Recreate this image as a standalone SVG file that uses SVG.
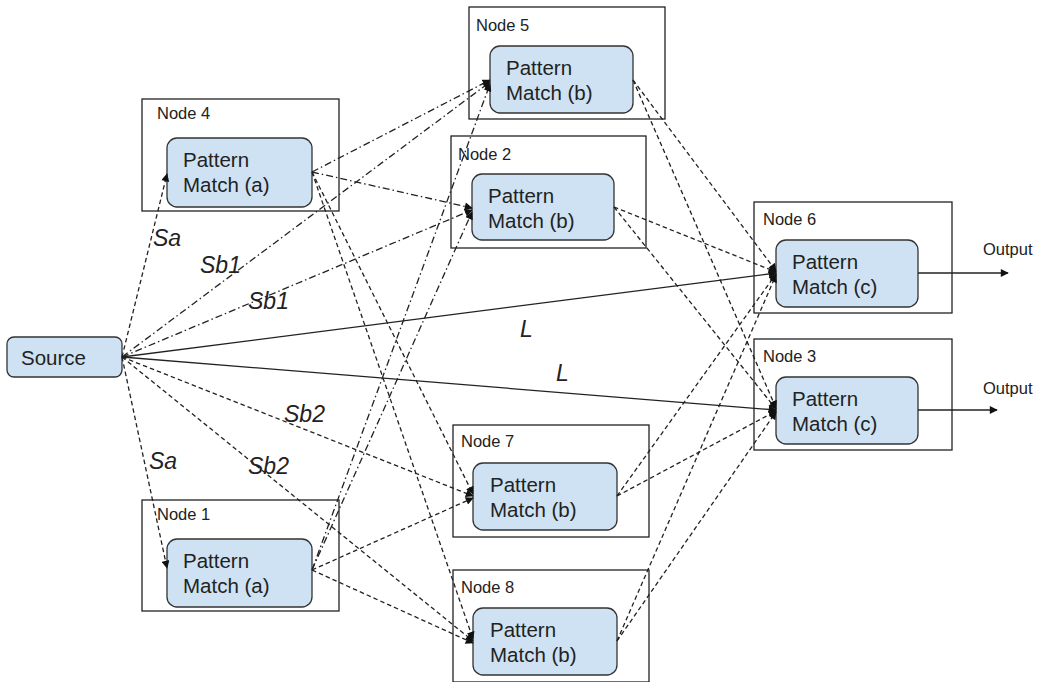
<svg xmlns="http://www.w3.org/2000/svg" width="1043" height="682" viewBox="0 0 1043 682">
<defs>
<style>
.bg{fill:#ffffff}
.box{fill:#ffffff;stroke:#222;stroke-width:1.3}
.pm{fill:#cfe2f3;stroke:#333;stroke-width:1.3}
.t{font-family:"Liberation Sans",Arial,sans-serif;font-size:20.5px;fill:#222}
.nl{font-family:"Liberation Sans",Arial,sans-serif;font-size:16.5px;fill:#222}
.lab{font-family:"Liberation Sans",Arial,sans-serif;font-size:23px;font-style:italic;fill:#222}
.c{fill:none;stroke:#222;stroke-width:1.3}
.d{stroke-dasharray:4.5 3}
.dd{stroke-dasharray:7 3 1.5 3}
</style>
<marker id="ah" viewBox="0 0 10 10" refX="9" refY="5" markerWidth="9" markerHeight="8" markerUnits="userSpaceOnUse" orient="auto">
<path d="M0,0 L10,5 L0,10 z" fill="#111"/>
</marker>
</defs>
<rect class="bg" x="0" y="0" width="1043" height="682"/>

<g id="node4"><rect class="box" x="142" y="99" width="197" height="112"/><text class="nl" x="157" y="119">Node 4</text>
<rect class="pm" x="167" y="138" width="145" height="69" rx="10"/><text class="t" x="183" y="167">Pattern</text><text class="t" x="183" y="192">Match (a)</text></g>

<g id="node1"><rect class="box" x="142" y="500" width="197" height="111"/><text class="nl" x="157" y="520">Node 1</text>
<rect class="pm" x="167" y="539" width="145" height="68" rx="10"/><text class="t" x="183" y="568">Pattern</text><text class="t" x="183" y="593">Match (a)</text></g>

<g id="node5"><rect class="box" x="469" y="7" width="196" height="112"/><text class="nl" x="476" y="31">Node 5</text>
<rect class="pm" x="490" y="46" width="143" height="67" rx="10"/><text class="t" x="506" y="75">Pattern</text><text class="t" x="506" y="100">Match (b)</text></g>

<g id="node2"><rect class="box" x="451" y="136" width="195" height="112"/><text class="nl" x="458" y="160">Node 2</text>
<rect class="pm" x="472" y="174" width="142" height="66" rx="10"/><text class="t" x="488" y="203">Pattern</text><text class="t" x="488" y="228">Match (b)</text></g>

<g id="node7"><rect class="box" x="453" y="425" width="196" height="112"/><text class="nl" x="461" y="447">Node 7</text>
<rect class="pm" x="473" y="463" width="144" height="67" rx="10"/><text class="t" x="490" y="492">Pattern</text><text class="t" x="490" y="517">Match (b)</text></g>

<g id="node8"><rect class="box" x="453" y="570" width="196" height="112"/><text class="nl" x="461" y="593">Node 8</text>
<rect class="pm" x="473" y="608" width="144" height="67" rx="10"/><text class="t" x="490" y="637">Pattern</text><text class="t" x="490" y="662">Match (b)</text></g>

<g id="node6"><rect class="box" x="754" y="202" width="198" height="111"/><text class="nl" x="763" y="225">Node 6</text>
<rect class="pm" x="776" y="240" width="142" height="67" rx="10"/><text class="t" x="792" y="269">Pattern</text><text class="t" x="792" y="294">Match (c)</text></g>

<g id="node3"><rect class="box" x="754" y="339" width="198" height="111"/><text class="nl" x="763" y="362">Node 3</text>
<rect class="pm" x="776" y="377" width="142" height="67" rx="10"/><text class="t" x="792" y="406">Pattern</text><text class="t" x="792" y="431">Match (c)</text></g>

<g id="source"><rect class="pm" x="7" y="337" width="115" height="40" rx="7"/><text class="t" x="21" y="365">Source</text></g>

<g id="connectors">
<line class="c d" x1="122" y1="357" x2="167" y2="174" marker-end="url(#ah)"/>
<line class="c d" x1="122" y1="357" x2="167" y2="568" marker-end="url(#ah)"/>
<line class="c dd" x1="122" y1="357" x2="490" y2="82" marker-end="url(#ah)"/>
<line class="c dd" x1="122" y1="357" x2="472" y2="210" marker-end="url(#ah)"/>
<line class="c" x1="122" y1="357" x2="776" y2="273" marker-end="url(#ah)"/>
<line class="c" x1="122" y1="357" x2="776" y2="410" marker-end="url(#ah)"/>
<line class="c d" x1="122" y1="357" x2="473" y2="496" marker-end="url(#ah)"/>
<line class="c d" x1="122" y1="357" x2="473" y2="641" marker-end="url(#ah)"/>
<line class="c dd" x1="312" y1="172" x2="490" y2="80" marker-end="url(#ah)"/>
<line class="c dd" x1="312" y1="172" x2="472" y2="208" marker-end="url(#ah)"/>
<line class="c d" x1="312" y1="172" x2="473" y2="494" marker-end="url(#ah)"/>
<line class="c d" x1="312" y1="172" x2="473" y2="639" marker-end="url(#ah)"/>
<line class="c dd" x1="312" y1="570" x2="490" y2="84" marker-end="url(#ah)"/>
<line class="c dd" x1="312" y1="570" x2="472" y2="212" marker-end="url(#ah)"/>
<line class="c d" x1="312" y1="570" x2="473" y2="498" marker-end="url(#ah)"/>
<line class="c d" x1="312" y1="570" x2="473" y2="643" marker-end="url(#ah)"/>
<line class="c d" x1="633" y1="80" x2="776" y2="271" marker-end="url(#ah)"/>
<line class="c d" x1="633" y1="80" x2="776" y2="408" marker-end="url(#ah)"/>
<line class="c d" x1="614" y1="207" x2="776" y2="272" marker-end="url(#ah)"/>
<line class="c d" x1="614" y1="207" x2="776" y2="409" marker-end="url(#ah)"/>
<line class="c d" x1="617" y1="496" x2="776" y2="274" marker-end="url(#ah)"/>
<line class="c d" x1="617" y1="496" x2="776" y2="411" marker-end="url(#ah)"/>
<line class="c d" x1="617" y1="641" x2="776" y2="275" marker-end="url(#ah)"/>
<line class="c d" x1="617" y1="641" x2="776" y2="412" marker-end="url(#ah)"/>
<line class="c" x1="918" y1="273" x2="1008" y2="273" marker-end="url(#ah)"/>
<line class="c" x1="918" y1="410" x2="997" y2="410" marker-end="url(#ah)"/>
</g>

<g id="labels">
<text class="lab" x="153" y="246">Sa</text>
<text class="lab" x="200" y="273">Sb1</text>
<text class="lab" x="248" y="309">Sb1</text>
<text class="lab" x="520" y="337">L</text>
<text class="lab" x="556" y="381">L</text>
<text class="lab" x="284" y="422">Sb2</text>
<text class="lab" x="248" y="474">Sb2</text>
<text class="lab" x="149" y="469">Sa</text>
<text class="nl" x="983" y="255">Output</text>
<text class="nl" x="983" y="394">Output</text>
</g>
</svg>
